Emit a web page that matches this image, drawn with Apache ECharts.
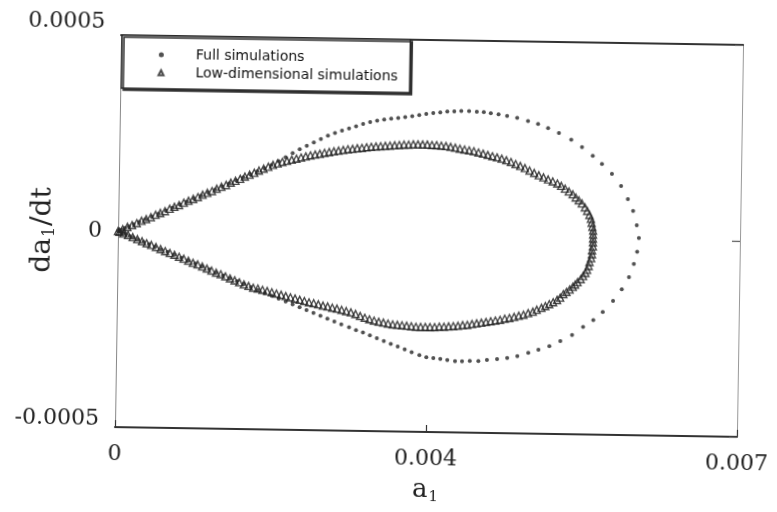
<!DOCTYPE html>
<html><head><meta charset="utf-8">
<script src="https://cdn.jsdelivr.net/npm/echarts@6/dist/echarts.min.js"></script>
<style>
html,body{margin:0;padding:0;background:#fff;overflow:hidden}
#wrap{width:777px;height:512px;transform:rotate(0.9deg);transform-origin:429px 236px}
#chart{width:777px;height:512px}
</style></head>
<body><div id="wrap"><div id="chart"></div></div>
<script>
// [a1, da1/dt]
const fullSimulations = [
[0,0],[0.02e-3,0.02e-4],[0.05e-3,0.04e-4],[0.09e-3,0.08e-4],[0.14e-3,0.12e-4],[0.20e-3,0.18e-4],[0.27e-3,0.24e-4],[0.35e-3,0.31e-4],[0.43e-3,0.38e-4],
[0.52e-3,0.46e-4],[0.61e-3,0.54e-4],[0.70e-3,0.62e-4],[0.79e-3,0.70e-4],[0.88e-3,0.78e-4],[0.97e-3,0.86e-4],[1.06e-3,0.94e-4],[1.15e-3,1.02e-4],
[1.24e-3,1.10e-4],[1.33e-3,1.18e-4],[1.42e-3,1.26e-4],[1.51e-3,1.34e-4],[1.60e-3,1.42e-4],[1.69e-3,1.50e-4],[1.78e-3,1.58e-4],[1.87e-3,1.66e-4],
[1.96e-3,1.75e-4],[2.05e-3,1.85e-4],[2.14e-3,1.95e-4],[2.23e-3,2.06e-4],[2.32e-3,2.16e-4],[2.41e-3,2.25e-4],[2.50e-3,2.34e-4],[2.59e-3,2.43e-4],
[2.68e-3,2.52e-4],[2.77e-3,2.59e-4],[2.86e-3,2.65e-4],[2.95e-3,2.71e-4],[3.04e-3,2.77e-4],[3.13e-3,2.83e-4],[3.22e-3,2.88e-4],[3.31e-3,2.92e-4],
[3.40e-3,2.95e-4],[3.49e-3,2.98e-4],[3.58e-3,3.00e-4],[3.67e-3,3.02e-4],[3.76e-3,3.05e-4],[3.85e-3,3.08e-4],[3.94e-3,3.11e-4],[4.03e-3,3.14e-4],
[4.12e-3,3.16e-4],[4.21e-3,3.18e-4],[4.30e-3,3.19e-4],[4.39e-3,3.20e-4],[4.49e-3,3.20e-4],[4.59e-3,3.19e-4],[4.68e-3,3.18e-4],[4.77e-3,3.16e-4],
[4.87e-3,3.13e-4],[4.98e-3,3.09e-4],[5.11e-3,3.05e-4],[5.25e-3,2.97e-4],[5.38e-3,2.90e-4],[5.51e-3,2.80e-4],[5.65e-3,2.68e-4],[5.81e-3,2.51e-4],
[5.95e-3,2.33e-4],[6.09e-3,2.11e-4],[6.21e-3,1.91e-4],[6.34e-3,1.66e-4],[6.46e-3,1.35e-4],[6.55e-3,1.02e-4],[6.62e-3,0.72e-4],[6.67e-3,0.36e-4],
[6.70e-3,0.03e-4],[6.68e-3,-0.32e-4],[6.64e-3,-0.63e-4],[6.58e-3,-0.97e-4],[6.49e-3,-1.28e-4],[6.38e-3,-1.58e-4],[6.25e-3,-1.87e-4],[6.13e-3,-2.08e-4],
[6.00e-3,-2.26e-4],[5.86e-3,-2.47e-4],[5.71e-3,-2.63e-4],[5.57e-3,-2.76e-4],[5.43e-3,-2.86e-4],[5.30e-3,-2.94e-4],[5.16e-3,-3.03e-4],[5.03e-3,-3.08e-4],
[4.90e-3,-3.11e-4],[4.77e-3,-3.14e-4],[4.66e-3,-3.17e-4],[4.55e-3,-3.17e-4],[4.45e-3,-3.18e-4],[4.36e-3,-3.18e-4],[4.26e-3,-3.16e-4],[4.17e-3,-3.13e-4],
[4.08e-3,-3.11e-4],[3.99e-3,-3.09e-4],[3.90e-3,-3.04e-4],[3.80e-3,-2.97e-4],[3.71e-3,-2.90e-4],[3.62e-3,-2.83e-4],[3.53e-3,-2.77e-4],[3.44e-3,-2.70e-4],
[3.35e-3,-2.63e-4],[3.26e-3,-2.56e-4],[3.17e-3,-2.49e-4],[3.08e-3,-2.43e-4],[2.99e-3,-2.36e-4],[2.89e-3,-2.29e-4],[2.80e-3,-2.22e-4],[2.71e-3,-2.15e-4],
[2.62e-3,-2.08e-4],[2.53e-3,-2.01e-4],[2.44e-3,-1.94e-4],[2.35e-3,-1.87e-4],[2.26e-3,-1.80e-4],[2.17e-3,-1.73e-4],[2.08e-3,-1.66e-4],[1.99e-3,-1.59e-4],
[1.90e-3,-1.52e-4],[1.81e-3,-1.45e-4],[1.72e-3,-1.38e-4],[1.63e-3,-1.30e-4],[1.54e-3,-1.23e-4],[1.45e-3,-1.16e-4],[1.36e-3,-1.09e-4],[1.27e-3,-1.02e-4],
[1.18e-3,-0.94e-4],[1.09e-3,-0.87e-4],[1.00e-3,-0.80e-4],[0.91e-3,-0.73e-4],[0.82e-3,-0.66e-4],[0.73e-3,-0.58e-4],[0.64e-3,-0.51e-4],[0.56e-3,-0.45e-4],
[0.48e-3,-0.38e-4],[0.40e-3,-0.32e-4],[0.33e-3,-0.26e-4],[0.26e-3,-0.21e-4],[0.20e-3,-0.16e-4],[0.15e-3,-0.12e-4],[0.10e-3,-0.08e-4],[0.06e-3,-0.05e-4],
[0.03e-3,-0.02e-4]
];
const lowDimSimulations = [
[0,0],[0.06e-3,0.05e-4],[0.12e-3,0.11e-4],[0.18e-3,0.16e-4],[0.24e-3,0.21e-4],[0.30e-3,0.27e-4],[0.36e-3,0.32e-4],[0.42e-3,0.37e-4],[0.48e-3,0.43e-4],
[0.54e-3,0.48e-4],[0.60e-3,0.53e-4],[0.66e-3,0.59e-4],[0.72e-3,0.64e-4],[0.78e-3,0.69e-4],[0.84e-3,0.75e-4],[0.90e-3,0.80e-4],[0.96e-3,0.85e-4],
[1.02e-3,0.90e-4],[1.08e-3,0.96e-4],[1.14e-3,1.01e-4],[1.20e-3,1.06e-4],[1.26e-3,1.12e-4],[1.32e-3,1.17e-4],[1.38e-3,1.22e-4],[1.44e-3,1.28e-4],
[1.50e-3,1.33e-4],[1.56e-3,1.38e-4],[1.62e-3,1.44e-4],[1.68e-3,1.49e-4],[1.74e-3,1.54e-4],[1.80e-3,1.60e-4],[1.86e-3,1.65e-4],[1.92e-3,1.70e-4],
[1.98e-3,1.75e-4],[2.04e-3,1.79e-4],[2.10e-3,1.83e-4],[2.16e-3,1.86e-4],[2.22e-3,1.89e-4],[2.28e-3,1.92e-4],[2.34e-3,1.95e-4],[2.40e-3,1.98e-4],
[2.46e-3,2.01e-4],[2.52e-3,2.03e-4],[2.58e-3,2.05e-4],[2.64e-3,2.08e-4],[2.70e-3,2.10e-4],[2.76e-3,2.12e-4],[2.82e-3,2.14e-4],[2.88e-3,2.16e-4],
[2.94e-3,2.18e-4],[3.00e-3,2.19e-4],[3.06e-3,2.21e-4],[3.12e-3,2.22e-4],[3.18e-3,2.24e-4],[3.24e-3,2.25e-4],[3.30e-3,2.26e-4],[3.36e-3,2.27e-4],
[3.42e-3,2.28e-4],[3.48e-3,2.29e-4],[3.54e-3,2.30e-4],[3.60e-3,2.31e-4],[3.66e-3,2.32e-4],[3.72e-3,2.32e-4],[3.78e-3,2.33e-4],[3.84e-3,2.33e-4],
[3.90e-3,2.33e-4],[3.96e-3,2.33e-4],[4.02e-3,2.32e-4],[4.08e-3,2.32e-4],[4.14e-3,2.31e-4],[4.20e-3,2.30e-4],[4.26e-3,2.28e-4],[4.32e-3,2.26e-4],
[4.38e-3,2.24e-4],[4.44e-3,2.22e-4],[4.50e-3,2.20e-4],[4.56e-3,2.18e-4],[4.62e-3,2.15e-4],[4.68e-3,2.12e-4],[4.74e-3,2.09e-4],[4.80e-3,2.06e-4],
[4.86e-3,2.03e-4],[4.92e-3,2.00e-4],[4.98e-3,1.96e-4],[5.04e-3,1.92e-4],[5.10e-3,1.87e-4],[5.16e-3,1.82e-4],[5.22e-3,1.77e-4],[5.28e-3,1.71e-4],
[5.34e-3,1.65e-4],[5.40e-3,1.59e-4],[5.46e-3,1.54e-4],[5.52e-3,1.49e-4],[5.58e-3,1.44e-4],[5.64e-3,1.39e-4],[5.69e-3,1.33e-4],[5.74e-3,1.26e-4],
[5.79e-3,1.19e-4],[5.84e-3,1.12e-4],[5.88e-3,1.04e-4],[5.92e-3,0.97e-4],[5.96e-3,0.89e-4],[6.00e-3,0.79e-4],[6.03e-3,0.70e-4],[6.06e-3,0.60e-4],
[6.08e-3,0.50e-4],[6.09e-3,0.40e-4],[6.10e-3,0.30e-4],[6.11e-3,0.20e-4],[6.11e-3,0.10e-4],[6.11e-3,0],[6.11e-3,-0.10e-4],[6.11e-3,-0.20e-4],
[6.10e-3,-0.30e-4],[6.10e-3,-0.40e-4],[6.09e-3,-0.50e-4],[6.07e-3,-0.60e-4],[6.06e-3,-0.70e-4],[6.04e-3,-0.80e-4],[6.02e-3,-0.88e-4],[5.99e-3,-0.96e-4],
[5.96e-3,-1.04e-4],[5.92e-3,-1.12e-4],[5.89e-3,-1.18e-4],[5.86e-3,-1.24e-4],[5.82e-3,-1.31e-4],[5.78e-3,-1.37e-4],[5.74e-3,-1.43e-4],[5.70e-3,-1.52e-4],
[5.66e-3,-1.58e-4],[5.61e-3,-1.64e-4],[5.56e-3,-1.69e-4],[5.51e-3,-1.74e-4],[5.46e-3,-1.79e-4],[5.40e-3,-1.84e-4],[5.35e-3,-1.89e-4],[5.29e-3,-1.93e-4],
[5.23e-3,-1.97e-4],[5.17e-3,-2.00e-4],[5.11e-3,-2.03e-4],[5.05e-3,-2.06e-4],[4.99e-3,-2.08e-4],[4.93e-3,-2.11e-4],[4.87e-3,-2.13e-4],[4.81e-3,-2.15e-4],
[4.75e-3,-2.17e-4],[4.69e-3,-2.19e-4],[4.63e-3,-2.21e-4],[4.57e-3,-2.23e-4],[4.51e-3,-2.25e-4],[4.45e-3,-2.26e-4],[4.39e-3,-2.28e-4],[4.33e-3,-2.29e-4],
[4.27e-3,-2.30e-4],[4.21e-3,-2.31e-4],[4.15e-3,-2.31e-4],[4.09e-3,-2.32e-4],[4.03e-3,-2.32e-4],[3.97e-3,-2.32e-4],[3.91e-3,-2.32e-4],[3.85e-3,-2.32e-4],
[3.79e-3,-2.31e-4],[3.73e-3,-2.30e-4],[3.67e-3,-2.29e-4],[3.61e-3,-2.28e-4],[3.55e-3,-2.27e-4],[3.49e-3,-2.25e-4],[3.43e-3,-2.23e-4],[3.37e-3,-2.21e-4],
[3.31e-3,-2.18e-4],[3.25e-3,-2.15e-4],[3.19e-3,-2.11e-4],[3.13e-3,-2.07e-4],[3.07e-3,-2.02e-4],[3.01e-3,-1.98e-4],[2.95e-3,-1.95e-4],[2.89e-3,-1.92e-4],
[2.83e-3,-1.89e-4],[2.77e-3,-1.87e-4],[2.71e-3,-1.84e-4],[2.65e-3,-1.82e-4],[2.59e-3,-1.79e-4],[2.53e-3,-1.76e-4],[2.47e-3,-1.74e-4],[2.41e-3,-1.71e-4],
[2.35e-3,-1.68e-4],[2.29e-3,-1.65e-4],[2.23e-3,-1.62e-4],[2.17e-3,-1.59e-4],[2.11e-3,-1.56e-4],[2.05e-3,-1.53e-4],[1.99e-3,-1.50e-4],[1.93e-3,-1.47e-4],
[1.87e-3,-1.44e-4],[1.81e-3,-1.41e-4],[1.75e-3,-1.39e-4],[1.69e-3,-1.35e-4],[1.63e-3,-1.31e-4],[1.57e-3,-1.26e-4],[1.51e-3,-1.21e-4],[1.45e-3,-1.16e-4],
[1.39e-3,-1.11e-4],[1.33e-3,-1.06e-4],[1.27e-3,-1.02e-4],[1.21e-3,-0.97e-4],[1.15e-3,-0.92e-4],[1.09e-3,-0.87e-4],[1.03e-3,-0.82e-4],[0.97e-3,-0.78e-4],
[0.91e-3,-0.73e-4],[0.85e-3,-0.68e-4],[0.79e-3,-0.63e-4],[0.73e-3,-0.58e-4],[0.67e-3,-0.54e-4],[0.61e-3,-0.49e-4],[0.55e-3,-0.44e-4],[0.49e-3,-0.39e-4],
[0.43e-3,-0.34e-4],[0.37e-3,-0.30e-4],[0.31e-3,-0.25e-4],[0.25e-3,-0.20e-4],[0.19e-3,-0.15e-4],[0.13e-3,-0.10e-4],[0.07e-3,-0.06e-4],[0.02e-3,-0.02e-4]
];
const seriesNames = ['Full simulations', 'Low-dimensional simulations'];
const xTickLabels = ['0', '0.004', '0.007'];
const yTickLabels = ['-0.0005', '0', '0.0005'];

const serif = 'DejaVu Serif';
const ink = '#222';
const chart = echarts.init(document.getElementById('chart'), null, {renderer: 'canvas'});
chart.setOption({
  animation: false,
  backgroundColor: '#fff',
  grid: {left: 118, top: 40, width: 622, height: 392, containLabel: false, outerBoundsMode: 'none'},
  legend: {
    data: seriesNames, orient: 'vertical', left: 119, top: 40,
    itemWidth: 5, itemHeight: 5, itemGap: 4, selectedMode: false,
    padding: [12, 12, 9, 36],
    backgroundColor: '#fff', borderColor: '#2a2a2a', borderWidth: 1.5,
    shadowColor: '#333', shadowBlur: 0, shadowOffsetX: 2, shadowOffsetY: 2,
    textStyle: {fontFamily: 'DejaVu Sans', fontSize: 14, lineHeight: 14, color: '#111', padding: [0, 0, 0, 27]}
  },
  xAxis: [{
    type: 'value', min: 0, max: 0.008, interval: 0.004, position: 'bottom',
    axisLine: {show: true, onZero: false, lineStyle: {color: '#333', width: 2}},
    axisTick: {show: true, inside: true, length: 7, lineStyle: {color: '#333', width: 1.2}},
    splitLine: {show: false},
    axisLabel: {formatter: (v, i) => xTickLabels[i], fontFamily: serif, fontSize: 22, color: ink, margin: 16},
    name: '{a|a}{s|1}', nameLocation: 'middle', nameGap: 44, nameMoveOverlap: false,
    nameTextStyle: {fontFamily: serif, fontSize: 26, color: ink,
      rich: {a: {fontFamily: serif, fontSize: 26, color: ink}, s: {fontFamily: serif, fontSize: 15, color: ink, padding: [14, 0, 0, 1]}}}
  }, {
    type: 'value', min: 0, max: 0.008, interval: 0.004, position: 'top',
    axisLine: {show: true, onZero: false, lineStyle: {color: '#333', width: 2}},
    axisTick: {show: false}, axisLabel: {show: false}, splitLine: {show: false}
  }],
  yAxis: [{
    type: 'value', min: -0.0005, max: 0.0005, interval: 0.0005, position: 'left',
    axisLine: {show: true, onZero: false, lineStyle: {color: '#888', width: 1}},
    axisTick: {show: false}, splitLine: {show: false},
    axisLabel: {
      formatter: (v, i) => '{' + ['b', 'm', 't'][i] + '|' + yTickLabels[i] + '}',
      fontFamily: serif, fontSize: 22, color: ink, margin: 16,
      rich: {
        t: {fontFamily: serif, fontSize: 22, color: ink, padding: [0, 0, 26, 0]},
        m: {fontFamily: serif, fontSize: 22, color: ink},
        b: {fontFamily: serif, fontSize: 22, color: ink, padding: [0, 0, 16, 0]}
      }
    },
    name: '{d|da}{s|1}{d|/dt}', nameLocation: 'middle', nameGap: 60, nameRotate: 90, nameMoveOverlap: false,
    nameTextStyle: {fontFamily: serif, fontSize: 28, color: ink,
      rich: {d: {fontFamily: serif, fontSize: 28, color: ink}, s: {fontFamily: serif, fontSize: 16, color: ink, padding: [15, 1, 0, 1]}}}
  }, {
    type: 'value', min: -0.0005, max: 0.0005, interval: 0.0005, position: 'right',
    axisLine: {show: true, onZero: false, lineStyle: {color: '#999', width: 1}},
    axisTick: {show: true, inside: true, length: 8, lineStyle: {color: '#555', width: 1.2}},
    axisLabel: {show: false}, splitLine: {show: false}
  }],
  series: [{
    name: seriesNames[1], type: 'scatter', data: lowDimSimulations,
    symbol: 'triangle', symbolSize: 7,
    itemStyle: {color: 'rgba(255,255,255,0)', borderColor: '#1e1e1e', borderWidth: 1.4}
  }, {
    name: seriesNames[0], type: 'scatter', data: fullSimulations,
    symbol: 'circle', symbolSize: 4,
    itemStyle: {color: '#262626'}
  }]
});
</script>
</body></html>
